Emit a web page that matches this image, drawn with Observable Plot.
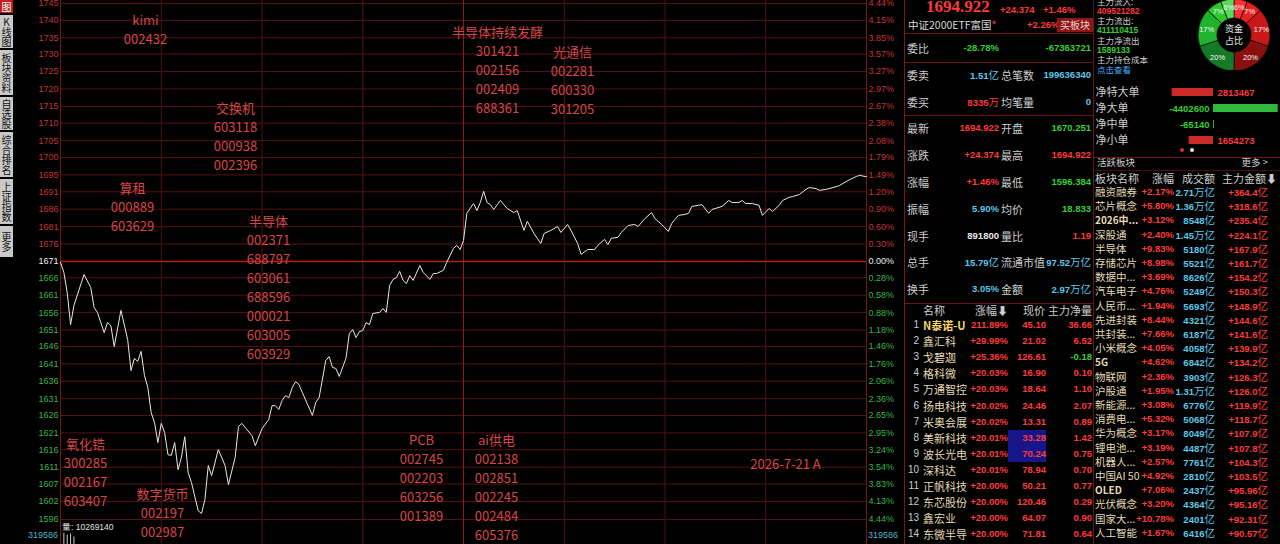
<!DOCTYPE html>
<html><head><meta charset="utf-8">
<script src="https://cdn.jsdelivr.net/npm/d3@7"></script>
<script src="https://cdn.jsdelivr.net/npm/@observablehq/plot@0.6"></script>
<style>
html,body{margin:0;padding:0;background:#000;}
#root{position:relative;width:1280px;height:544px;overflow:hidden;background:#000;font-family:"Noto Sans CJK SC","Noto Sans",sans-serif;}
.t{position:absolute;white-space:nowrap;line-height:1;transform:translateY(-50%);}
.abs{position:absolute;}
</style></head><body><div id="root"></div>
<script>
// ================= DATA =================
const prevClose = 1670.548;
const minutes = [0,1,2,3,4,7,9,10,11,13,14,15,16,18,20,21,22,23,24,25,26,27,28,29,30,31,32,33,34,35,36,37,38,39,41,42,43,44,45,47,49,50,52,53,54,57,58,60,62,63,64,65,66,67,68,69,70,71,72,75,76,77,79,80,81,82,83,85,86,87,88,89,90,91,92,93,95,96,97,98,99,100,101,102,103,104,105,107,108,110,111,112,114,115,117,118,119,120,121,122,123,124,125,126,127,128,129,131,132,133,135,136,138,139,141,143,144,146,148,149,151,152,154,155,157,159,160,162,163,164,166,167,169,171,172,174,176,177,179,181,182,184,186,187,188,190,191,193,194,197,199,200,202,203,204,206,208,209,211,212,214,215,217,218,220,222,223,225,226,228,230,232,233,235,237,238,240];
const prices = [1670.3,1667.4,1661.6,1652.4,1657.9,1666.8,1663.1,1657.3,1655.9,1650.1,1653.0,1652.1,1646.1,1656.5,1648.1,1639.2,1642.7,1641.8,1644.7,1637.8,1634.3,1627.1,1624.2,1618.5,1624.0,1621.4,1615.0,1614.8,1618.5,1610.7,1614.2,1620.2,1609.9,1607.0,1598.9,1598.1,1602.1,1611.9,1609.0,1616.5,1611.9,1606.4,1614.2,1623.1,1624.0,1620.5,1617.6,1622.5,1625.1,1629.1,1629.1,1628.0,1630.6,1632.0,1631.4,1634.3,1636.0,1635.2,1632.9,1626.3,1630.0,1631.4,1642.1,1643.2,1640.1,1639.8,1637.5,1642.7,1649.8,1651.0,1648.7,1650.4,1650.7,1653.0,1652.4,1655.6,1655.9,1657.0,1655.9,1663.6,1665.4,1665.9,1667.7,1665.1,1664.2,1666.5,1665.1,1669.4,1667.4,1665.4,1667.1,1667.1,1668.0,1670.3,1674.3,1675.2,1674.0,1676.6,1684.4,1685.8,1687.2,1685.2,1687.5,1690.7,1687.5,1686.9,1685.5,1688.1,1686.9,1685.8,1684.6,1685.2,1679.5,1682.1,1678.6,1675.7,1678.6,1679.5,1680.6,1678.9,1681.2,1679.5,1675.7,1672.6,1674.0,1674.0,1675.2,1676.9,1675.4,1677.2,1677.5,1678.9,1680.9,1681.2,1680.6,1682.9,1684.6,1682.9,1681.2,1679.2,1681.5,1683.8,1684.1,1684.4,1686.4,1686.7,1686.9,1684.4,1685.5,1686.4,1688.1,1687.5,1687.5,1688.1,1687.2,1687.2,1686.7,1683.8,1685.8,1684.9,1686.7,1688.1,1689.0,1689.2,1689.8,1691.3,1691.8,1691.5,1691.0,1691.3,1691.8,1692.4,1693.0,1694.1,1695.0,1695.3,1694.9];

const upperPriceLabels = ["1745","1740","1735","1730","1725","1720","1715","1710","1705","1700","1695","1691","1686","1681","1676"];
const upperPctLabels   = ["4.44","4.15","3.85","3.57","3.27","2.97","2.67","2.38","2.08","1.79","1.49","1.20","0.90","0.60","0.30"];
const zeroPriceLabel = "1671", zeroPctLabel = "0.00";
const lowerPriceLabels = ["1666","1661","1656","1651","1646","1641","1636","1631","1626","1621","1616","1611","1607","1602","1596"];
const lowerPctLabels   = ["0.28","0.58","0.88","1.18","1.46","1.76","2.06","2.36","2.65","2.95","3.24","3.54","3.83","4.13","4.44"];
const timeGrid = [30,60,90,150,180,210];
const middayMinute = 120;
const volMinutes = [1,2,3,4];
const volumes = [300000,250000,280000,200000];
const volMax = 319586;
const volTotal = "10269140";

const noteTitles = ["kimi","交换机","算租","半导体","半导体持续发酵","光通信","氧化锆","数字货币","PCB","ai供电"];
const noteCodes = [["002432"],["603118","000938","002396"],["000889","603629"],
  ["002371","688797","603061","688596","000021","603005","603929"],
  ["301421","002156","002409","688361"],["002281","600330","301205"],
  ["300285","002167","603407"],["002197","002987"],
  ["002745","002203","603256","001389"],["002138","002851","002245","002484","605376"]];
const dateNote = "2026-7-21 A";

// right panel data
const headPrice = "1694.922", headChg = "+24.374", headPct = "+1.46%";
const etfName = "中证2000ETF富国", etfPct = "+2.26%";
const quoteLabels  = ["委比","委卖","委买","最新","涨跌","涨幅","振幅","现手","总手","换手"];
const quoteVal1    = ["-28.78%","1.51亿","8335万","1694.922","+24.374","+1.46%","5.90%","891800","15.79亿","3.05%"];
const quoteLabels2 = ["","总笔数","均笔量","开盘","最高","最低","均价","量比","流通市值","金额"];
const quoteVal2    = ["-67363721","199636340","0","1670.251","1694.922","1596.384","18.833","1.19","97.52万亿","2.97万亿"];

const fundLines = ["主力流入:","409521282","主力流出:","411110415","主力净流出","1589133","主力持仓成本","点击查看"];
const donutLabels = ["6%","7%","17%","20%","20%","17%","7%","6%"];
const donutShares = [6,7,17,20,20,17,7,6];
const flowNames = ["净特大单","净大单","净中单","净小单"];
const flowValues = [2813467,-4402600,-65140,1654273];

const sectorNames = ["融资融券","芯片概念","2026中...","深股通","半导体","存储芯片","数据中...","汽车电子","人民币...","先进封装","共封装...","小米概念","5G","物联网","沪股通","新能源...","消费电...","华为概念","锂电池...","机器人...","中国AI 50","OLED","光伏概念","国家大...","人工智能"];
const sectorChg = ["+2.17%","+5.80%","+3.12%","+2.40%","+9.83%","+8.98%","+3.69%","+4.76%","+1.94%","+8.44%","+7.66%","+4.05%","+4.62%","+2.36%","+1.95%","+3.08%","+5.32%","+3.17%","+3.19%","+2.57%","+4.92%","+7.06%","+3.20%","+10.78%","+1.67%"];
const sectorTurnover = ["2.71万亿","1.36万亿","8548亿","1.45万亿","5180亿","5521亿","8626亿","5249亿","5693亿","4321亿","6187亿","4058亿","6842亿","3903亿","1.31万亿","6776亿","5068亿","8049亿","4487亿","7761亿","2810亿","2437亿","4364亿","2401亿","6416亿"];
const sectorFlow = ["+364.4亿","+318.6亿","+235.4亿","+224.1亿","+167.9亿","+161.7亿","+154.2亿","+150.3亿","+148.9亿","+144.6亿","+141.6亿","+139.9亿","+134.2亿","+126.3亿","+126.0亿","+119.9亿","+118.7亿","+107.9亿","+107.8亿","+104.3亿","+103.5亿","+95.96亿","+95.16亿","+92.31亿","+90.57亿"];

const stockNames = ["N泰诺-U","鑫汇科","戈碧迦","格科微","万通智控","扬电科技","米奥会展","美新科技","波长光电","深科达","正帆科技","东芯股份","鑫宏业","东微半导"];
const stockChg = ["211.89%","+29.99%","+25.36%","+20.03%","+20.03%","+20.02%","+20.02%","+20.01%","+20.01%","+20.01%","+20.00%","+20.00%","+20.00%","+20.00%"];
const stockPrice = ["45.10","21.02","126.61","16.90","18.64","24.46","13.31","33.28","70.24","78.94","50.21","120.46","64.07","71.81"];
const stockNet = ["36.66","6.52","-0.18","0.10","1.10","2.07","0.89","1.42","0.75","0.70","0.77","0.29","0.90","0.64"];
const tabs = ["图","K线图","板块资料","自选股","综合排名","上证指数","更多"];

// ================= STYLE =================
const W = 1280;
const RED="#ff3a3a", GRN="#34d034", CYN="#5cc8ea", WHT="#e8e8e8", LBL="#cdcdcd", NAME="#e4dab4";
const GRID="#561010", FRAME="#7a1616";
const root = document.getElementById("root");

// ================= MAIN CHART =================
const ticks = [
  ...upperPriceLabels.map((l,i)=>({pct:+upperPctLabels[i], left:l, right:upperPctLabels[i]+"%", c:"#c43434"})),
  {pct:0, left:zeroPriceLabel, right:zeroPctLabel+"%", c:"#eeeeee"},
  ...lowerPriceLabels.map((l,i)=>({pct:-lowerPctLabels[i], left:l, right:lowerPctLabels[i]+"%", c:"#3cb44c"}))
];
const series = minutes.map((m,i)=>({m, pct:(prices[i]/prevClose-1)*100}));
const toMin = px => (px-60)*240/806, toPct = py => (261-py)/58.1; // annotation placement helpers
const noteAnchors = [[145,20],[235,108],[132,188],[268,221],[497,32],[572,52],[85,444],[162,494],[421,440],[496,440]];
const notes = noteTitles.map((t,i)=>({m:toMin(noteAnchors[i][0]), pct:toPct(noteAnchors[i][1]), lines:[t,...noteCodes[i]]}));
const maxRows = d3.max(notes, d=>d.lines.length);
const noteMarks = d3.range(maxRows).map(r => Plot.text(notes.filter(d=>d.lines.length>r), {
  x:"m", y:"pct", text:d=>d.lines[r], dy:r*19, fill:"#d84648", fontSize:13, fontFamily:"Noto Sans CJK SC"}));

const main = Plot.plot({
  width:905, height:544, marginLeft:60, marginRight:39, marginTop:3, marginBottom:25,
  x:{domain:[0,240], axis:null},
  y:{domain:[-4.44,4.44], axis:null},
  color:{type:"identity"},
  style:{background:"transparent", overflow:"visible"},
  marks:[
    Plot.ruleY(ticks.filter(t=>t.pct!==0), {y:"pct", stroke:GRID, strokeWidth:1}),
    Plot.ruleX(timeGrid, {x:d=>d, stroke:GRID, insetTop:-3, insetBottom:-25}),
    Plot.ruleX([middayMinute], {x:d=>d, stroke:"#8e1c1c", insetTop:-3, insetBottom:-25}),
    Plot.ruleX([0,240], {x:d=>d, stroke:FRAME, insetTop:-3, insetBottom:-25}),
    Plot.ruleY([0], {y:d=>d, stroke:"#b81a1a", strokeWidth:1.7}),
    Plot.text(ticks, {y:"pct", text:"left", frameAnchor:"left", dx:-2, textAnchor:"end", fill:"c", fontSize:9, fontFamily:"Liberation Sans"}),
    Plot.text(ticks, {y:"pct", text:"right", frameAnchor:"right", dx:2, textAnchor:"start", fill:"c", fontSize:9, fontFamily:"Liberation Sans"}),
    ...noteMarks,
    Plot.text([{m:toMin(785), pct:toPct(464)}], {x:"m", y:"pct", text:()=>dateNote, fill:"#d84648", fontSize:13, fontFamily:"Noto Sans CJK SC"}),
    Plot.line(series, {x:"m", y:"pct", stroke:"#e8e8e8", strokeWidth:1})
  ]
});
main.style.position="absolute"; main.style.left="0px"; main.style.top="0px";
root.appendChild(main);

// volume strip
const vol = Plot.plot({
  width:905, height:12, marginLeft:60, marginRight:39, marginTop:0, marginBottom:0,
  x:{domain:[0,240], axis:null}, y:{domain:[0,volMax], axis:null},
  style:{background:"transparent"},
  marks:[Plot.ruleX(volMinutes.map((m,i)=>({m, v:volumes[i]})), {x:"m", y1:0, y2:"v", stroke:"#d0d0d0", strokeWidth:1})]
});
vol.style.position="absolute"; vol.style.left="0px"; vol.style.top="532px";
root.appendChild(vol);

// ================= HTML helpers =================
function put(txt, x, y, o={}) {
  const d = document.createElement("div");
  d.className = "t";
  d.style.top = y+"px";
  d.style.color = o.color || LBL;
  d.style.fontSize = (o.size || 10.5)+"px";
  if (o.num) { d.style.fontFamily = '"Liberation Sans",Arial,sans-serif'; d.style.fontWeight = "bold"; }
  if (o.family) d.style.fontFamily = o.family;
  if (o.weight) d.style.fontWeight = o.weight;
  if (o.align==="right") d.style.right = (W-x)+"px";
  else if (o.align==="center") { d.style.left = x+"px"; d.style.transform = "translate(-50%,-50%)"; }
  else d.style.left = x+"px";
  d.innerHTML = o.num ? numUnit(txt) : txt;
  root.appendChild(d);
  return d;
}
function numUnit(v){
  const m = v.match(/^([^\u4e00-\u9fff]*)([\u4e00-\u9fff]*)$/);
  return (m && m[2]) ? `${m[1]}<span style="font-weight:normal;font-family:'Noto Sans CJK SC';font-size:10.5px">${m[2]}</span>` : v;
}
function rect(x,y,w,h,bg){ const d=document.createElement("div"); d.className="abs"; Object.assign(d.style,{left:x+"px",top:y+"px",width:w+"px",height:h+"px",background:bg}); root.appendChild(d); return d; }
const colorOf = v => v.startsWith("-") ? GRN : RED;

// chart side labels
put(String(volMax), 58, 535, {color:"#4fb4cc", size:9, align:"right", family:"Liberation Sans"});
put(String(volMax), 868, 535, {color:"#4fb4cc", size:9, family:"Liberation Sans"});
put("量: "+volTotal, 62, 527, {color:"#e0e0e0", size:8.5, family:"Liberation Sans"});

// sidebar tabs
const tabTops=[0,15,50,97,132,179,226], tabH=[13,33,45,33,45,45,31];
tabs.forEach((t,i)=>{
  const d = rect(0, tabTops[i], 13, tabH[i], i===0?"#c21e1e":"#c9c9c9");
  Object.assign(d.style,{color:i===0?"#fff":"#111",fontSize:"10px",lineHeight:"11px",writingMode:"vertical-rl",textOrientation:"upright",display:"flex",alignItems:"center",justifyContent:"center",fontFamily:"Noto Sans CJK SC"});
  d.textContent = t;
});

// panel lines
rect(904,0,1,544,"#801818");
rect(1093,0,1,544,"#6a1414");
[33,62,115,303].forEach(y=>rect(905,y,188,1,"#6a1414"));
rect(1094,157,186,1,"#6a1414"); rect(1094,170,186,1,"#4a1010");

// header
put(headPrice, 926, 6, {color:RED, size:17, family:'"Liberation Serif",serif', weight:"bold"});
put(headChg, 1000, 10, {color:RED, num:true, size:9.5});
put(headPct, 1043, 10, {color:RED, num:true, size:9.5});
put(etfName+'<span style="color:#ff4040">*</span>', 908, 25, {color:"#d8d8d8", size:10.5});
put(etfPct, 1027, 25, {color:RED, num:true, size:9.5});
const btn = put("买板块", 1075, 25, {color:"#f0d0d0", size:10, align:"center"});
btn.style.background="#8e1818"; btn.style.padding="2px 3px";

quoteLabels.forEach((l,i)=>{
  const y = 48 + i*26.8;
  const v1 = quoteVal1[i], v2 = quoteVal2[i];
  const c1 = [GRN,CYN,RED,RED,RED,RED,CYN,WHT,CYN,CYN][i];
  const c2 = [GRN,CYN,CYN,GRN,RED,GRN,GRN,RED,CYN,CYN][i];
  put(l, 907, y, {size:11});
  put(v1, 999, y, {color:c1, num:true, size:9.5, align:"right"});
  if (quoteLabels2[i]) put(quoteLabels2[i], 1001, y, {size:11});
  put(v2, 1091, y, {color:c2, num:true, size:9.5, align:"right"});
});

// fund flow text
const fundColors=[LBL,RED,LBL,GRN,LBL,GRN,LBL,"#3fb2ff"];
fundLines.forEach((t,i)=>put(t, 1097, 1+i*9.7, {color:fundColors[i], size:8.5, num:/^\d/.test(t)}));

// donut (d3)
{
  const svg = d3.create("svg").attr("width",90).attr("height",80).style("position","absolute").style("left","1189px").style("top","-10px");
  const g = svg.append("g").attr("transform","translate(45,45)");
  const cols = ["#ff3030","#e52222","#c81818","#8a1010","#157a26","#20b42c","#2cc82c","#5ad85a"];
  const pie = d3.pie().sort(null).value(d=>d)(donutShares);
  const arc = d3.arc().innerRadius(17).outerRadius(36);
  const lab = d3.arc().innerRadius(28).outerRadius(28);
  g.selectAll("path").data(pie).join("path").attr("d",arc).attr("fill",(d,i)=>cols[i]).attr("stroke","#000").attr("stroke-width",0.6);
  g.selectAll("text.l").data(pie).join("text").attr("transform",d=>`translate(${lab.centroid(d)})`).attr("text-anchor","middle").attr("dy","0.35em")
    .attr("fill","#f4f4f4").attr("font-size",7.5).attr("font-family","Liberation Sans").text((d,i)=>donutLabels[i]);
  g.append("text").attr("y",-6).attr("text-anchor","middle").attr("dy","0.35em").attr("fill","#eee").attr("font-size",9).attr("font-family","Noto Sans CJK SC").text("资金");
  g.append("text").attr("y",6).attr("text-anchor","middle").attr("dy","0.35em").attr("fill","#eee").attr("font-size",9).attr("font-family","Noto Sans CJK SC").text("占比");
  root.appendChild(svg.node());
}

// net flow bars (Plot)
{
  const flows = flowNames.map((n,i)=>({name:n, value:flowValues[i]}));
  const pxPerUnit = 14.7e-6, zeroX = 120, pw = 187;
  const fp = Plot.plot({
    width:pw, height:64, margin:0,
    x:{domain:[-zeroX/pxPerUnit,(pw-zeroX)/pxPerUnit], range:[0,pw], axis:null},
    y:{domain:flowNames, range:[0,64], paddingInner:0.5, paddingOuter:0.25, axis:null},
    color:{type:"identity"},
    style:{background:"transparent", overflow:"visible"},
    marks:[
      Plot.barX(flows, {y:"name", x1:0, x2:d=>-d.value, fill:d=>d.value>0?"#cc2a2a":"#2fb83c"}),
      Plot.text(flows, {y:"name", text:"name", frameAnchor:"left", dx:2, textAnchor:"start", fill:LBL, fontSize:11, fontFamily:"Noto Sans CJK SC"}),
      Plot.text(flows.filter(d=>d.value>0), {y:"name", x:0, text:d=>String(d.value), dx:4, textAnchor:"start", fill:RED, fontSize:9.5, fontWeight:"bold", fontFamily:"Liberation Sans"}),
      Plot.text(flows.filter(d=>d.value<0), {y:"name", x:0, text:d=>String(d.value), dx:-4, textAnchor:"end", fill:GRN, fontSize:9.5, fontWeight:"bold", fontFamily:"Liberation Sans"})
    ]
  });
  fp.style.position="absolute"; fp.style.left="1093px"; fp.style.top="84px";
  root.appendChild(fp);
  const d1 = rect(1180,148,4,4,"#d03030"); d1.style.borderRadius="50%";
  const d2 = rect(1190,148,4,4,"#e8e8e8"); d2.style.borderRadius="50%";
}

// active sectors table
put("活跃板块", 1097, 163, {size:9.5});
put("更多 &gt;", 1268, 163, {size:9.5, align:"right"});
put("板块名称", 1095, 178, {size:11});
put("涨幅", 1174, 178, {size:11, align:"right"});
put("成交额", 1215, 178, {size:11, align:"right"});
put("主力金额⬇", 1277, 178, {size:11, align:"right"});
sectorNames.forEach((n,i)=>{
  const y = 192 + i*14.2;
  const latin = /^[A-Za-z0-9]/.test(n);
  put(n, 1095, y, {color:NAME, size:latin?10:10.5, weight:latin?"bold":null});
  put(sectorChg[i], 1174, y, {color:RED, num:true, size:9.5, align:"right"});
  put(sectorTurnover[i], 1215, y, {color:CYN, num:true, size:9.5, align:"right"});
  put(sectorFlow[i], 1268, y, {color:RED, num:true, size:9.5, align:"right"});
});

// stock ranking
put("名称", 923, 310, {size:11});
put("涨幅⬇", 1008, 310, {size:11, align:"right"});
put("现价", 1045, 310, {size:11, align:"right"});
put("主力净量", 1092, 310, {size:11, align:"right"});
rect(1008, 430, 38, 32, "#16168a");
stockNames.forEach((n,i)=>{
  const y = 325 + i*16.1;
  put(String(i+1), 919, y, {color:LBL, size:10, align:"right", family:"Liberation Sans"});
  put(n, 923, y, {color:i===0?"#f2d66a":NAME, size:11, weight:i===0?"bold":null});
  put(stockChg[i], 1008, y, {color:RED, num:true, size:9.5, align:"right"});
  put(stockPrice[i], 1046, y, {color:RED, num:true, size:9.5, align:"right"});
  put(stockNet[i], 1092, y, {color:colorOf(stockNet[i]), num:true, size:9.5, align:"right"});
});
</script></body></html>
